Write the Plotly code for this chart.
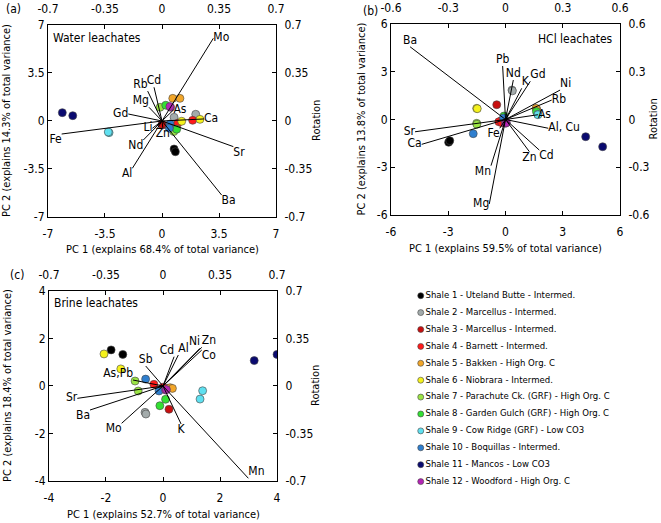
import plotly.graph_objects as go

FONT = "Liberation Sans Narrow, DejaVu Sans Condensed, Arial Narrow, sans-serif"

SHALES = [
    'Shale 1 - Uteland Butte - Intermed.',
    'Shale 2 - Marcellus - Intermed.',
    'Shale 3 - Marcellus - Intermed.',
    'Shale 4 - Barnett - Intermed.',
    'Shale 5 - Bakken - High Org. C',
    'Shale 6 - Niobrara - Intermed.',
    'Shale 7 - Parachute Ck. (GRF) - High Org. C',
    'Shale 8 - Garden Gulch (GRF) - High Org. C',
    'Shale 9 - Cow Ridge (GRF) - Low CO3',
    'Shale 10 - Boquillas - Intermed.',
    'Shale 11 - Mancos - Low CO3',
    'Shale 12 - Woodford - High Org. C',
]
SHALE_COLORS = ['#000000', '#a3abab', '#c80f0f', '#ff1a1a', '#f2a629', '#f5f21c',
                '#9be445', '#33e033', '#5fe0f0', '#2f7fcf', '#0a0a70', '#b424b4']

# two samples per shale, in shale order
SAMPLE_SHALE = [0, 0, 1, 1, 2, 2, 3, 3, 4, 4, 5, 5, 6, 6, 7, 7, 8, 8, 9, 9, 10, 10, 11, 11]

# (a) water leachates - scores
WATER_PC1 = [0.74, 0.82, 0.74, 2.07, 0.04, 0.0, 1.88, 0.97, 0.66, 1.1, 1.21, 2.33,
             -0.12, 0.72, 0.23, 0.9, -3.25, -3.3, 0.49, 0.45, -6.12, -5.48, 0.53, 0.48]
WATER_PC2 = [-2.04, -2.24, 0.27, 0.49, -0.29, -0.25, 0.05, -0.17, 1.65, 1.65, -0.02, 0.12,
             1.0, -0.77, 1.15, -0.6, -0.85, -0.8, -0.22, -0.52, 0.61, 0.39, 1.0, 1.05]
# (a) loadings
WATER_VARS = ['Mo', 'Rb', 'Cd', 'Mg', 'Gd', 'Fe', 'Li', 'Nd', 'Al', 'Zn', 'Sr', 'Ba', 'Ca', 'As']
WATER_ROT1 = [0.315, -0.088, -0.049, -0.08, -0.207, -0.616, -0.059, -0.115, -0.182, 0.005, 0.438, 0.366, 0.258, 0.07]
WATER_ROT2 = [0.603, 0.218, 0.246, 0.10, 0.051, -0.095, -0.053, -0.139, -0.345, -0.05, -0.187, -0.54, 0.015, 0.08]
WATER_POS = ['middle right', 'top left', 'top center', 'top left', 'middle left', 'bottom left',
             'middle left', 'bottom left', 'bottom left', 'bottom center', 'bottom right',
             'bottom right', 'middle right', 'middle right']

# (b) HCl leachates - scores
HCL_PC1 = [-2.98, -2.92, 0.34, 0.36, -0.46, -0.25, -0.35, -0.2, 1.64, 1.6, -1.51, -1.48,
           -1.51, -1.5, -0.08, 1.62, 1.69, 1.7, -1.69, -0.1, 4.2, 5.09, 0.0, 0.05]
HCL_PC2 = [-1.43, -1.33, 1.85, 1.8, 0.93, -0.1, -0.14, -0.2, 0.64, 0.7, 0.7, 0.68,
           -0.24, -0.3, 0.22, 0.5, 0.33, 0.3, -0.89, 0.1, -1.08, -1.71, -0.24, -0.2]
# (b) loadings
HCL_VARS = ['Ba', 'Pb', 'Nd', 'Gd', 'K', 'Ni', 'Rb', 'As', 'Al, Cu', 'Cd', 'Zn', 'Mn', 'Mg', 'Fe', 'Sr', 'Ca']
HCL_ROT1 = [-0.50, -0.015, 0.041, 0.13, 0.085, 0.286, 0.242, 0.17, 0.224, 0.177, 0.125, -0.076, -0.085, -0.03, -0.474, -0.439]
HCL_ROT2 = [0.457, 0.336, 0.248, 0.24, 0.196, 0.185, 0.122, 0.03, -0.055, -0.192, -0.202, -0.29, -0.531, -0.055, -0.077, -0.156]
HCL_POS = ['top center', 'top center', 'top center', 'top right', 'top right', 'top right',
           'middle right', 'middle right', 'middle right', 'bottom right', 'bottom center',
           'bottom left', 'middle left', 'bottom left', 'middle left', 'middle left']

# (c) brine leachates - scores
BRINE_PC1 = [-1.82, -1.41, -0.63, -0.6, 0.21, 0.15, -0.32, 0.0, 0.25, 0.33, -2.07, -1.48,
             -0.98, -0.87, 0.09, -0.11, 1.39, 1.3, -0.61, -0.14, 3.2, 4.0, 0.09, 0.12]
BRINE_PC2 = [1.52, 1.33, -1.11, -1.18, -0.98, -0.1, 0.07, -0.05, -0.07, -0.1, 1.35, 0.72,
             0.21, -0.21, -0.56, -0.83, -0.2, -0.55, 0.29, -0.21, 1.07, 1.33, -0.17, -0.15]
# (c) loadings
BRINE_VARS = ['Cd', 'Al', 'Ni', 'Zn', 'Co', 'Sb', 'As,Pb', 'Sr', 'Ba', 'Mo', 'K', 'Mn']
BRINE_ROT1 = [0.068, 0.094, 0.227, 0.238, 0.238, -0.106, -0.184, -0.526, -0.448, -0.254, 0.111, 0.524]
BRINE_ROT2 = [0.216, 0.228, 0.278, 0.285, 0.265, 0.147, 0.044, -0.091, -0.177, -0.275, -0.28, -0.68]
BRINE_POS = ['top left', 'top right', 'top left', 'top right', 'bottom right', 'top center',
             'top left', 'middle left', 'bottom left', 'bottom left', 'bottom center', 'top right']

PANELS = [
    dict(pc1=WATER_PC1, pc2=WATER_PC2, vars=WATER_VARS, r1=WATER_ROT1, r2=WATER_ROT2, pos=WATER_POS,
         pc_ticks=[-7, -3.5, 0, 3.5, 7], rot_ticks=[-0.7, -0.35, 0, 0.35, 0.7],
         xt='PC 1 (explains 68.4% of total variance)', yt='PC 2 (explains 14.3% of total variance)',
         xdom=[0.0726, 0.4176], ydom=[0.5851, 0.9522]),
    dict(pc1=HCL_PC1, pc2=HCL_PC2, vars=HCL_VARS, r1=HCL_ROT1, r2=HCL_ROT2, pos=HCL_POS,
         pc_ticks=[-6, -3, 0, 3, 6], rot_ticks=[-0.6, -0.3, 0, 0.3, 0.6],
         xt='PC 1 (explains 59.5% of total variance)', yt='PC 2 (explains 13.8% of total variance)',
         xdom=[0.5915, 0.938], ydom=[0.5889, 0.9541]),
    dict(pc1=BRINE_PC1, pc2=BRINE_PC2, vars=BRINE_VARS, r1=BRINE_ROT1, r2=BRINE_ROT2, pos=BRINE_POS,
         pc_ticks=[-4, -2, 0, 2, 4], rot_ticks=[-0.7, -0.35, 0, 0.35, 0.7],
         xt='PC 1 (explains 52.7% of total variance)', yt='PC 2 (explains 18.4% of total variance)',
         xdom=[0.0741, 0.4191], ydom=[0.0803, 0.4436]),
]

# axis title placement in pixels: (x title x, y), (y title x), (rotation title x)
TITLE_PX = [(162, 249, 7, 317), (505, 248, 362, 654), (163, 514, 7, 315)]


def tick_text(vals):
    return ['%g' % v for v in vals]


W, H = 661, 523
fig = go.Figure()
layout = {}
TITLE_FONT = dict(size=11, color='black', family=FONT)
annotations = []

for i, p in enumerate(PANELS):
    n_pc = 2 * i + 1
    n_rot = 2 * i + 2
    xa, ya = 'x%d' % n_pc if n_pc > 1 else 'x', 'y%d' % n_pc if n_pc > 1 else 'y'
    xr, yr = 'x%d' % n_rot, 'y%d' % n_rot

    # loading vectors (rotation scale, top/right axes)
    lx, ly = [], []
    for a, b in zip(p['r1'], p['r2']):
        lx += [0, a, None]
        ly += [0, b, None]
    fig.add_trace(go.Scatter(x=lx, y=ly, mode='lines', xaxis=xr, yaxis=yr,
                             line=dict(color='black', width=1), showlegend=False, hoverinfo='skip'))
    fig.add_trace(go.Scatter(x=p['r1'], y=p['r2'], mode='text', text=p['vars'], textposition=p['pos'],
                             textfont=dict(size=12, color='black', family=FONT),
                             xaxis=xr, yaxis=yr, showlegend=False, hoverinfo='skip'))

    # sample scores
    fig.add_trace(go.Scatter(
        x=p['pc1'], y=p['pc2'], mode='markers', xaxis=xa, yaxis=ya, showlegend=False,
        marker=dict(size=8, color=[SHALE_COLORS[s] for s in SAMPLE_SHALE],
                    line=dict(color='#444444', width=0.6)),
        text=[SHALES[s] for s in SAMPLE_SHALE]))

    pc_lim = [p['pc_ticks'][0], p['pc_ticks'][-1]]
    rot_lim = [p['rot_ticks'][0], p['rot_ticks'][-1]]
    common = dict(showgrid=False, zeroline=False, showline=True, linecolor='black', linewidth=1,
                  ticks='inside', ticklen=4, tickcolor='black', automargin=False,
                  tickfont=dict(size=12, color='black', family=FONT))
    key = lambda n, ax: '%saxis%s' % (ax, '' if n == 1 else n)
    layout[key(n_pc, 'x')] = dict(common, domain=p['xdom'], range=pc_lim, anchor=ya,
                                  tickvals=p['pc_ticks'], ticktext=tick_text(p['pc_ticks']),
                                  ticklabelstandoff=6)
    layout[key(n_pc, 'y')] = dict(common, domain=p['ydom'], range=pc_lim, anchor=xa,
                                  tickvals=p['pc_ticks'], ticktext=tick_text(p['pc_ticks']))
    layout[key(n_rot, 'x')] = dict(common, range=rot_lim, overlaying=xa, side='top', anchor=ya,
                                   ticklabelstandoff=6,
                                   tickvals=p['rot_ticks'], ticktext=tick_text(p['rot_ticks']))
    layout[key(n_rot, 'y')] = dict(common, range=rot_lim, overlaying=ya, side='right', anchor=xa,
                                   ticklabelstandoff=5,
                                   tickvals=p['rot_ticks'], ticktext=tick_text(p['rot_ticks']))

    # axis titles as annotations
    xt_x, xt_y, yt_x, rt_x = TITLE_PX[i]
    ymid = (p['ydom'][0] + p['ydom'][1]) / 2
    annotations += [
        dict(text=p['xt'], x=xt_x / W, y=1 - xt_y / H, textangle=0),
        dict(text=p['yt'], x=yt_x / W, y=ymid, textangle=-90),
        dict(text='Rotation', x=rt_x / W, y=ymid, textangle=-90),
    ]

annotations = [dict(a, xref='paper', yref='paper', showarrow=False, xanchor='center', yanchor='middle',
                    font=TITLE_FONT) for a in annotations]

# shale key, drawn on a hidden axis
rows = list(range(len(SHALES)))
fig.add_trace(go.Scatter(
    x=[0] * len(SHALES), y=rows, mode='markers+text', text=SHALES, textposition='middle right',
    textfont=dict(size=9.5, color='black', family=FONT), xaxis='x7', yaxis='y7', showlegend=False,
    cliponaxis=False,
    marker=dict(size=6, color=SHALE_COLORS, line=dict(color='#444444', width=0.6)), hoverinfo='skip'))
layout['xaxis7'] = dict(domain=[0.6365, 1.0], range=[0, 1], visible=False, anchor='y7')
layout['yaxis7'] = dict(domain=[0.063, 0.4508], range=[11.5, -0.5], visible=False, anchor='x7')

panel_text = [
    dict(text='(a)', x=4 / W, y=1 - 9 / H),
    dict(text='(b)', x=361 / W, y=1 - 11 / H),
    dict(text='(c)', x=8 / W, y=1 - 275 / H),
    dict(text='Water leachates', x=51 / W, y=1 - 38 / H),
    dict(text='Brine leachates', x=52 / W, y=1 - 303 / H),
]
annotations += [dict(a, xref='paper', yref='paper', showarrow=False, xanchor='left', yanchor='middle',
                     font=dict(size=12, color='black', family=FONT)) for a in panel_text]
annotations.append(dict(text='HCl leachates', x=615 / W, y=1 - 39 / H, xref='paper', yref='paper',
                        showarrow=False, xanchor='right', yanchor='middle',
                        font=dict(size=12, color='black', family=FONT)))

fig.update_layout(
    width=W, height=H,
    margin=dict(l=0, r=0, t=0, b=0, autoexpand=False),
    paper_bgcolor='white', plot_bgcolor='white',
    font=dict(family=FONT, color='black'),
    annotations=annotations,
    **layout
)

fig.write_html("out.html", config={'displayModeBar': False},
               post_script="document.body.style.margin = '0';")
